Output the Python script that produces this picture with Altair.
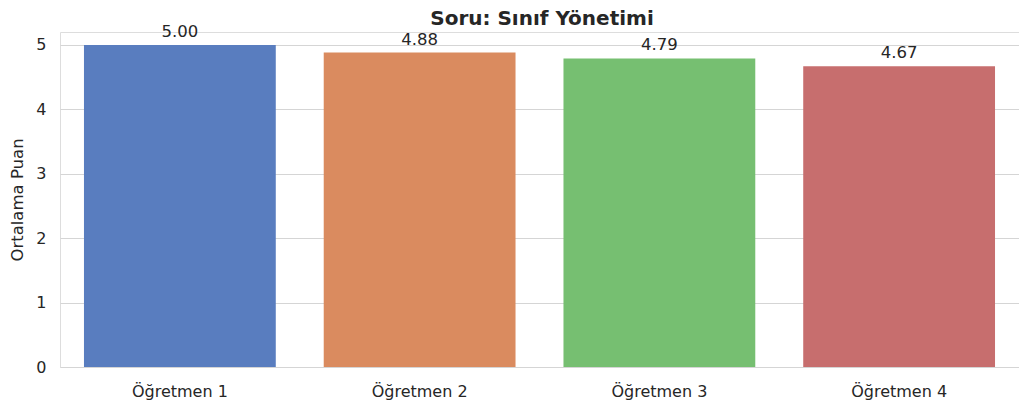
import altair as alt
import pandas as pd

teachers = ["Öğretmen 1", "Öğretmen 2", "Öğretmen 3", "Öğretmen 4"]
scores = [5.00, 4.88, 4.79, 4.67]
colors = ["#597dbf", "#da8b5f", "#76bf71", "#c76e6e"]
title_text = ["Soru: Sınıf Yönetimi"]

df = pd.DataFrame({"teacher": teachers, "score": scores,
                   "label": [f"{s:.2f}" for s in scores]})
tdf = pd.DataFrame({"t": title_text})

W, H = 959, 335
font = "DejaVu Sans"
x = alt.X("teacher:N", sort=teachers, title=None,
          scale=alt.Scale(paddingInner=0.2, paddingOuter=0.1),
          axis=alt.Axis(labelAngle=0, labelFontSize=16, labelColor="#262626",
                        labelFont=font, ticks=False, domain=False, labelPadding=16, grid=False))
y = alt.Y("score:Q", title="Ortalama Puan",
          scale=alt.Scale(domain=[0, 5.2], nice=False),
          axis=alt.Axis(values=[0, 1, 2, 3, 4, 5], format="d", labelFontSize=16,
                        labelColor="#262626",
                        labelFont=font, ticks=False, domain=False, labelPadding=14,
                        titleFont=font, titleFontSize=16.5, titleFontWeight="normal",
                        titleColor="#262626", titlePadding=10,
                        gridColor="#d5d5d5", gridWidth=1.2))

bars = alt.Chart(df).mark_bar().encode(
    x=x, y=y,
    color=alt.Color("teacher:N", scale=alt.Scale(domain=teachers, range=colors), legend=None),
)
text = alt.Chart(df).mark_text(baseline="alphabetic", dy=-8, fontSize=16.5, font=font,
                               color="#262626").encode(
    x=alt.X("teacher:N", sort=teachers), y="score:Q", text="label:N")
title = alt.Chart(tdf).mark_text(baseline="alphabetic", fontSize=20, font=font,
                                 fontWeight="bold", color="#262626").encode(
    x=alt.value(482), y=alt.value(-7), text="t:N")

chart = (bars + text + title).properties(
    width=W, height=H,
    autosize=alt.AutoSizeParams(type="none"),
    padding={"left": 52, "top": 24, "right": 0, "bottom": 35},
).configure_view(stroke="#d5d5d5", strokeWidth=1.5).configure(background="white")

chart.save("out.html", embed_options={"renderer": "svg", "actions": False})
